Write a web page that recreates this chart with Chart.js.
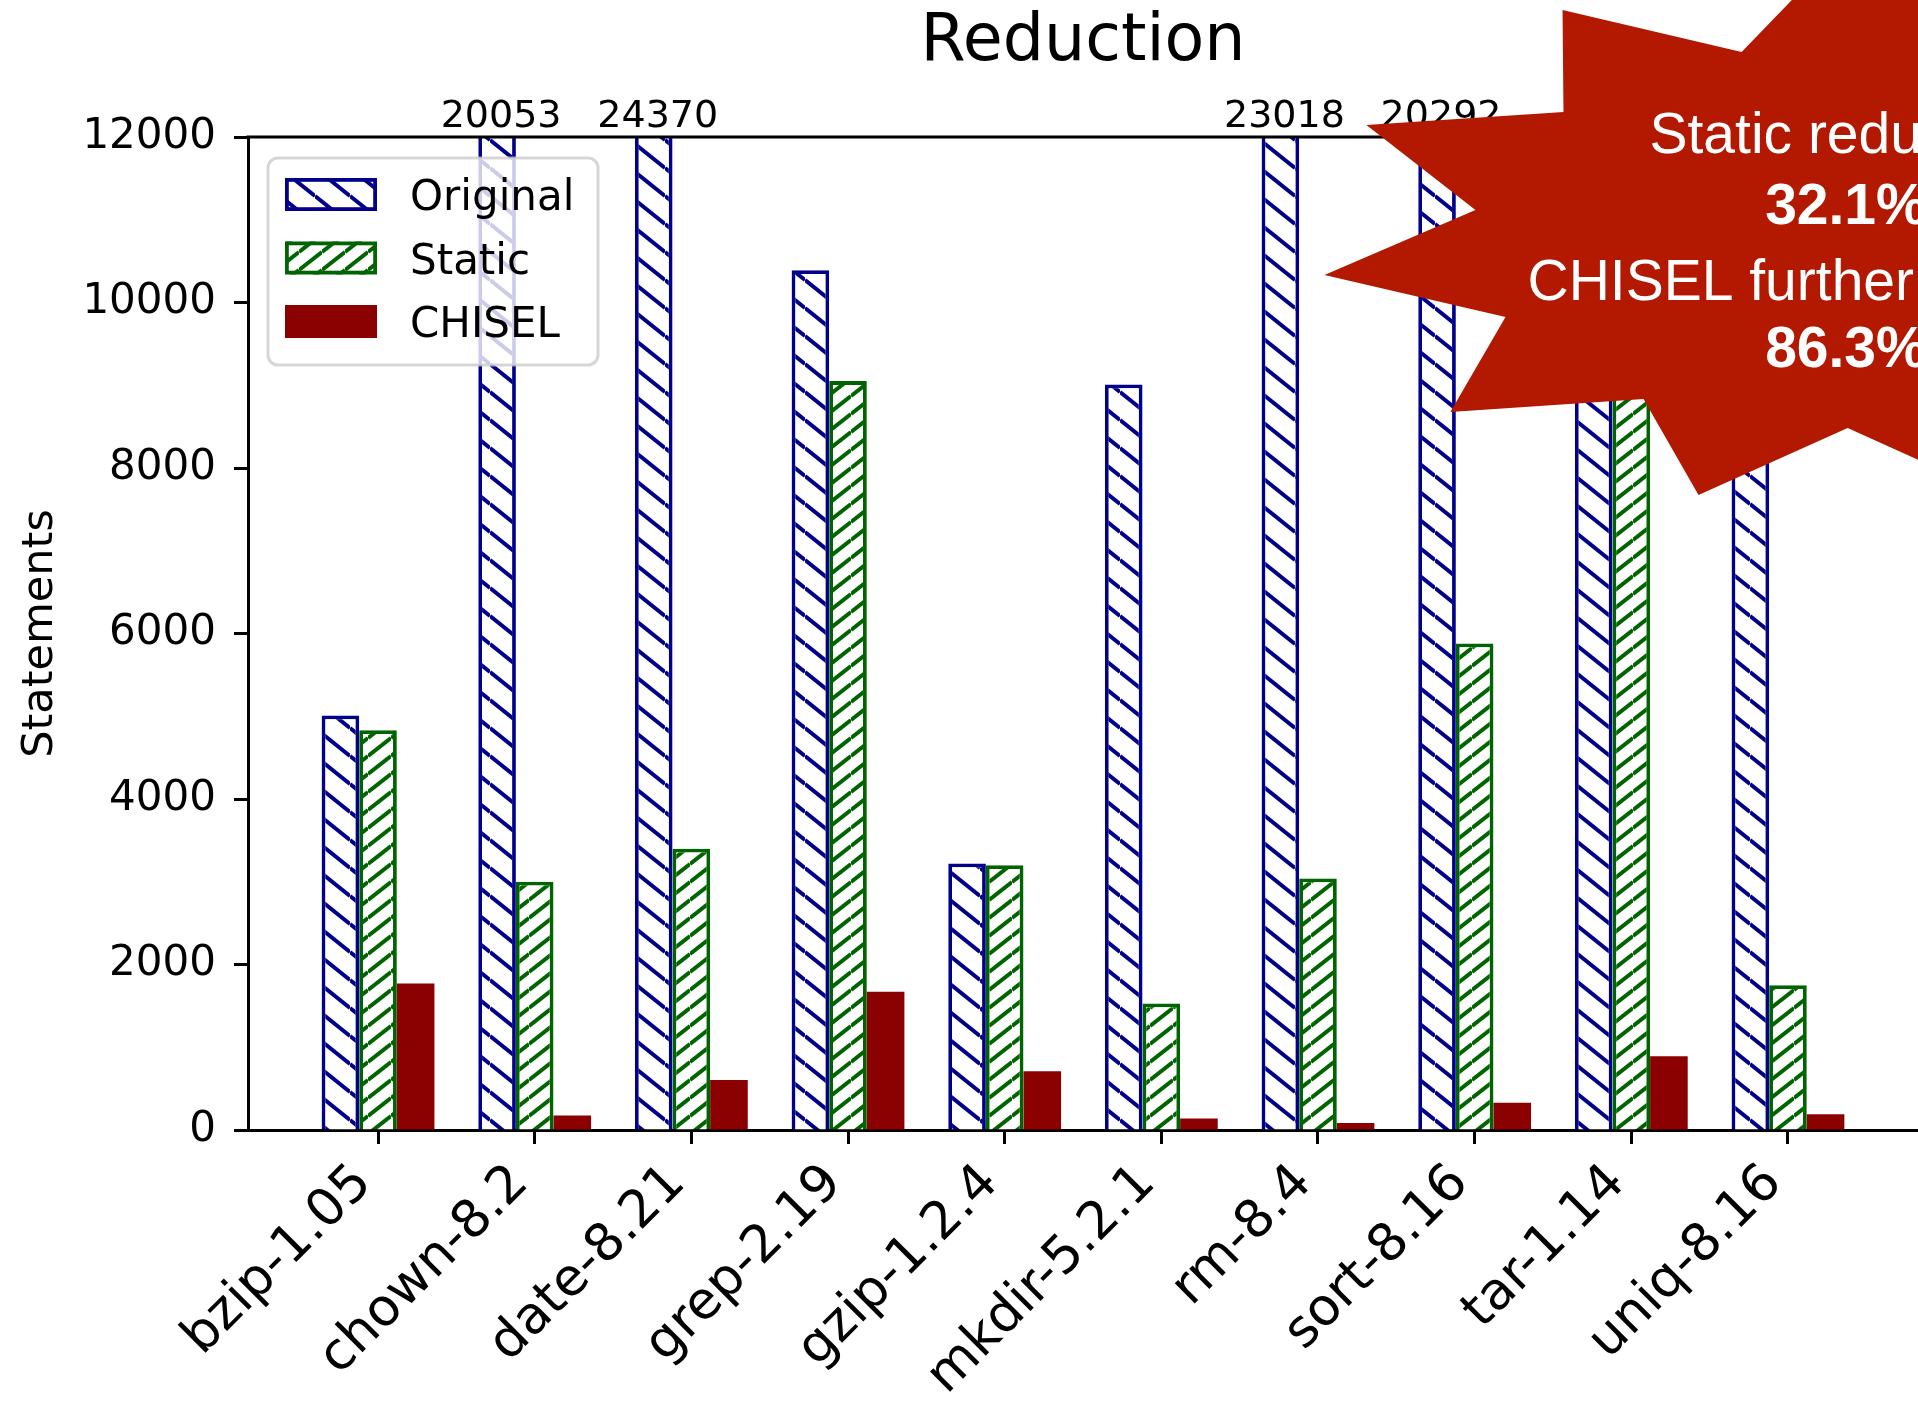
<!DOCTYPE html>
<html>
<head>
<meta charset="utf-8">
<title>Reduction</title>
<script src="https://cdn.jsdelivr.net/npm/chart.js@4.4.0/dist/chart.umd.min.js"></script>
<style>
  html, body { margin: 0; padding: 0; background: #fff; overflow: hidden; }
  #wrap { width: 1918px; height: 1405px; position: relative; }
</style>
</head>
<body>
<div id="wrap"><canvas id="reductionChart"></canvas></div>
<script>
// data (statements per program)
const programs = ['bzip-1.05', 'chown-8.2', 'date-8.21', 'grep-2.19', 'gzip-1.2.4',
                  'mkdir-5.2.1', 'rm-8.4', 'sort-8.16', 'tar-1.14', 'uniq-8.16'];
const originalStmts = [5010, 20053, 24370, 10390, 3220, 9010, 23018, 20292, 10800, 9300];
const staticStmts   = [4830, 3000, 3400, 9050, 3200, 1530, 3040, 5880, 9200, 1750];
const chiselStmts   = [1770, 175, 605, 1670, 710, 140, 85, 330, 890, 190];
const seriesNames = ['Original', 'Static', 'CHISEL'];
const yTicks = [0, 2000, 4000, 6000, 8000, 10000, 12000];
const yMax = 12000;

// callout text
const calloutLines = ['Static reduction', '32.1%', 'CHISEL further reduction', '86.3%'];

const canvas = document.getElementById('reductionChart');
const ctx = canvas.getContext('2d');

function makeHatch(color, w, h, dir) {
    const tile = document.createElement('canvas');
    tile.width = w;
    tile.height = h;
    const g = tile.getContext('2d');
    g.fillStyle = '#fff';
    g.fillRect(0, 0, w, h);
    g.strokeStyle = color;
    g.lineWidth = 4;
    for (let k = -1; k <= 1; k++) {
        g.beginPath();
        if (dir === '\\') {
            g.moveTo(0, k * h);
            g.lineTo(w, (k + 1) * h);
        } else {
            g.moveTo(0, (k + 1) * h);
            g.lineTo(w, k * h);
        }
        g.stroke();
    }
    return ctx.createPattern(tile, 'repeat');
}

const blue = '#00008b';
const green = '#006400';
const red = '#8b0000';
const origHatch = makeHatch(blue, 35, 28, '\\');
const staticHatch = makeHatch(green, 23, 18, '/');

// star outline in data units (x = category index, y = statements)
const starOutline = [
    [7.561, 13535], [8.704, 13028], [9.272, 14139], [10.677, 14139], [10.677, 7372],
    [9.381, 8484], [8.429, 7674], [8.078, 8834], [6.845, 8677], [7.197, 9825],
    [6.041, 10333], [7.005, 11118], [6.309, 12145], [7.567, 12302]
];
const calloutX = 9.37;
const calloutY = [11807, 10949, 10031, 9221];

const overlay = {
    id: 'overlay',
    afterDraw(chart) {
        const { ctx, chartArea: a, scales: { x, y } } = chart;
        ctx.save();

        // top spine
        ctx.strokeStyle = '#000';
        ctx.lineWidth = 3;
        ctx.beginPath();
        ctx.moveTo(a.left - 1.5, a.top);
        ctx.lineTo(a.right, a.top);
        ctx.stroke();

        // values of bars that run past the top
        ctx.fillStyle = '#000';
        ctx.font = '38px "DejaVu Sans"';
        ctx.textAlign = 'center';
        ctx.textBaseline = 'alphabetic';
        const meta = chart.getDatasetMeta(0);
        originalStmts.forEach((v, i) => {
            if (v > yMax) ctx.fillText(String(v), meta.data[i].x + 4, a.top - 10);
        });

        // legend
        const lx = a.left + 20, ly = a.top + 21, lw = 330, lh = 207;
        ctx.beginPath();
        ctx.roundRect(lx, ly, lw, lh, 10);
        ctx.fillStyle = 'rgba(255,255,255,0.8)';
        ctx.fill();
        ctx.strokeStyle = 'rgba(204,204,204,0.8)';
        ctx.lineWidth = 3;
        ctx.stroke();
        ctx.font = '42px "DejaVu Sans"';
        ctx.textAlign = 'left';
        chart.data.datasets.forEach((ds, i) => {
            const py = ly + 20 + i * 63.5;
            ctx.fillStyle = ds.backgroundColor;
            ctx.fillRect(lx + 17, py, 92, 33);
            if (ds.borderWidth) {
                ctx.strokeStyle = ds.borderColor;
                ctx.lineWidth = 3.8;
                ctx.strokeRect(lx + 18.9, py + 1.9, 88.2, 29.2);
            }
            ctx.fillStyle = '#000';
            ctx.fillText(ds.label, lx + 142, py + 32);
        });

        // red star callout
        ctx.fillStyle = '#b31900';
        ctx.beginPath();
        starOutline.forEach(([sx, sy], i) => {
            const px = x.getPixelForValue(sx), py = y.getPixelForValue(sy);
            if (i === 0) ctx.moveTo(px, py); else ctx.lineTo(px, py);
        });
        ctx.closePath();
        ctx.fill();

        ctx.fillStyle = '#fff';
        ctx.textAlign = 'center';
        calloutLines.forEach((t, i) => {
            ctx.font = (i % 2 ? 'bold ' : '') + '57px "Liberation Sans"';
            ctx.fillText(t, x.getPixelForValue(calloutX), y.getPixelForValue(calloutY[i]));
        });
        ctx.restore();
    }
};

Chart.defaults.font.family = '"DejaVu Sans", sans-serif';
Chart.defaults.color = '#000';

const seriesValues = [originalStmts, staticStmts, chiselStmts];
const seriesFill = [origHatch, staticHatch, red];
const seriesEdge = [blue, green, red];

const chart = new Chart(ctx, {
    type: 'bar',
    data: {
        datasets: seriesNames.map((name, s) => ({
            label: name,
            data: programs.map((p, i) => ({ x: i, y: seriesValues[s][i] })),
            backgroundColor: seriesFill[s],
            borderColor: seriesEdge[s],
            borderWidth: s < 2 ? 3.8 : 0,
            categoryPercentage: 0.72,
            barPercentage: 1.0,
            clip: 0
        }))
    },
    options: {
        responsive: true,
        maintainAspectRatio: false,
        animation: false,
        layout: { padding: { top: 0, left: 0, right: 0, bottom: 0 } },
        plugins: {
            legend: { display: false },
            tooltip: { enabled: false },
            title: {
                display: true,
                text: 'Reduction',
                fullSize: false,
                font: { size: 65, weight: 'normal' },
                color: '#000',
                padding: { top: 4, bottom: 55 }
            }
        },
        scales: {
            x: {
                type: 'linear',
                min: -0.83,
                max: 9.83,
                offset: false,
                z: 1,
                afterFit: s => { s.height = 275; },
                afterBuildTicks: s => { s.ticks = programs.map((p, i) => ({ value: i })); },
                ticks: {
                    autoSkip: false,
                    maxRotation: 45,
                    minRotation: 45,
                    padding: 9,
                    labelOffset: -14,
                    font: { size: 52 },
                    color: '#000',
                    callback: v => programs[v]
                },
                grid: { offset: false, drawOnChartArea: false, drawTicks: true, tickLength: 14, tickWidth: 3, tickColor: '#000' },
                border: { display: true, color: '#000', width: 3 }
            },
            y: {
                min: 0,
                max: yMax,
                z: 1,
                afterFit: s => { s.width = 248; },
                afterBuildTicks: s => { s.ticks = yTicks.map(v => ({ value: v })); },
                ticks: { padding: 18, font: { size: 42 }, color: '#000', callback: v => String(v) },
                grid: { drawOnChartArea: false, drawTicks: true, tickLength: 14, tickWidth: 3, tickColor: '#000' },
                border: { display: true, color: '#000', width: 3 },
                title: {
                    display: true,
                    text: 'Statements',
                    font: { size: 43 },
                    color: '#000',
                    padding: { top: 15, bottom: 0 }
                }
            }
        }
    },
    plugins: [overlay]
});
</script>
</body>
</html>
